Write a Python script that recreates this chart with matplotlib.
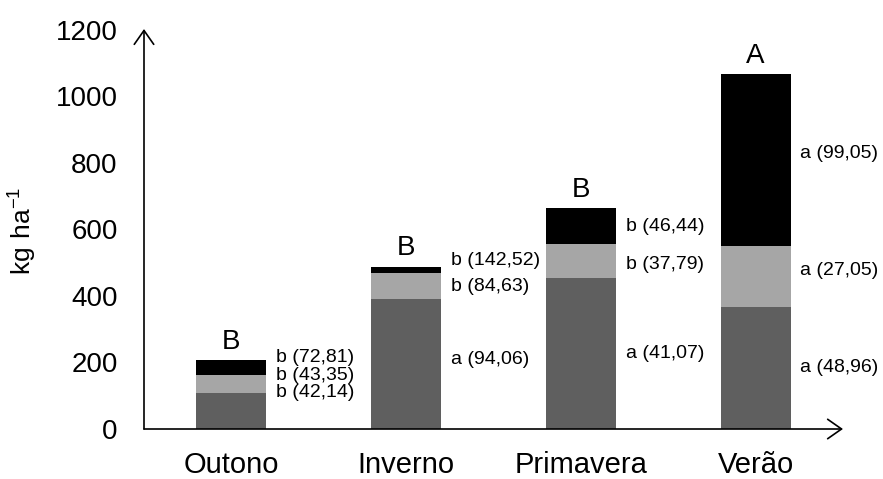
import matplotlib.pyplot as plt
import numpy as np

# --- dados ---
estacoes = ["Outono", "Inverno", "Primavera", "Verão"]
camada_base = [108, 390, 453, 368]     # segmento inferior (cinza escuro)
camada_meio = [54, 80, 102, 182]       # segmento do meio (cinza claro)
camada_topo = [45, 18, 109, 517]       # segmento superior (preto)
letras_total = ["B", "B", "B", "A"]
rotulos_base = ["b (42,14)", "a (94,06)", "a (41,07)", "a (48,96)"]
rotulos_meio = ["b (43,35)", "b (84,63)", "b (37,79)", "a (27,05)"]
rotulos_topo = ["b (72,81)", "b (142,52)", "b (46,44)", "a (99,05)"]
yticks = [0, 200, 400, 600, 800, 1000, 1200]
# -------------

# ajuste vertical dos rotulos (pt) para nao sobrepor nas camadas finas
desloc = [
    [13, 6, 7],
    [3, 0, 7],
    [0, -2, 0],
    [0, 4, 5],
]

plt.rcParams['font.family'] = ['Liberation Sans', 'DejaVu Sans']
plt.rcParams['mathtext.fontset'] = 'custom'
plt.rcParams['mathtext.rm'] = 'Liberation Sans'

cores = ['#5f5f5f', '#a6a6a6', '#000000']

fig = plt.figure(figsize=(8.83, 4.79), dpi=100)
ax = fig.add_axes([144 / 883, 50 / 479, 699 / 883, 400 / 479])

x = np.arange(len(estacoes))
largura = 0.4
base = np.array(camada_base)
meio = np.array(camada_meio)
topo = np.array(camada_topo)

ax.bar(x, base, largura, color=cores[0], linewidth=0)
ax.bar(x, meio, largura, bottom=base, color=cores[1], linewidth=0)
ax.bar(x, topo, largura, bottom=base + meio, color=cores[2], linewidth=0)

ax.set_xlim(-0.5, 3.5)
ax.set_ylim(0, 1203)

# rotulos ao lado de cada camada
centros = [base / 2, base + meio / 2, base + meio + topo / 2]
textos = [rotulos_base, rotulos_meio, rotulos_topo]
for i in range(len(estacoes)):
    for k in range(3):
        ax.annotate(textos[k][i], xy=(x[i] + largura / 2, centros[k][i]),
                    xytext=(7, desloc[i][k]), textcoords='offset points',
                    ha='left', va='center', fontsize=14)
    total = base[i] + meio[i] + topo[i]
    ax.annotate(letras_total[i], xy=(x[i], total), xytext=(0, 4),
                textcoords='offset points', ha='center', va='bottom',
                fontsize=20)

# eixos com seta
for s in ax.spines.values():
    s.set_visible(False)
seta = dict(arrowstyle='->,head_length=0.5,head_width=0.35', lw=1.2,
            color='black', mutation_scale=20, shrinkA=0, shrinkB=0)
ax.annotate('', xy=(0, 1.0), xytext=(0, 0), xycoords='axes fraction',
            arrowprops=seta, annotation_clip=False)
ax.annotate('', xy=(1.0, 0), xytext=(0, 0), xycoords='axes fraction',
            arrowprops=seta, annotation_clip=False)

ax.set_xticks(x)
ax.set_xticklabels(estacoes, fontsize=21)
ax.set_yticks(yticks)
ax.set_yticklabels([str(v) for v in yticks], fontsize=20)
ax.tick_params(axis='y', length=0, pad=19)
ax.tick_params(axis='x', length=0, pad=16)

fig.text(23 / 883, 1 - 231 / 479, r'$\mathregular{kg\ ha^{-1}}$',
         rotation=90, ha='center', va='center', fontsize=19)

fig.savefig('out.png', dpi=100)
